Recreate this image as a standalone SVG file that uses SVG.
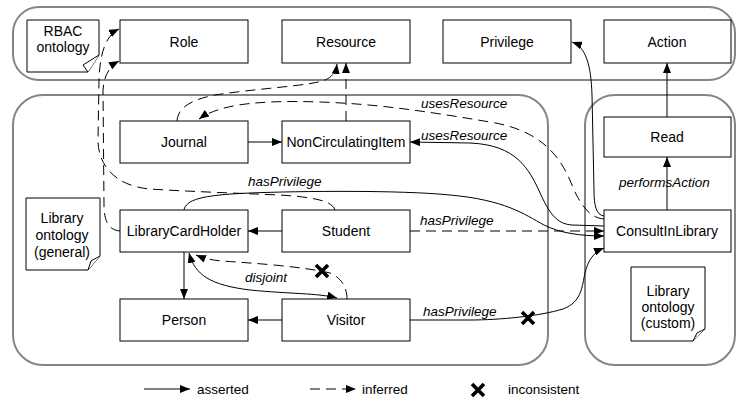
<svg xmlns="http://www.w3.org/2000/svg" width="738" height="398" viewBox="0 0 738 398">
<defs>
<marker id="arr" viewBox="0 0 10 8" refX="10" refY="4" markerWidth="10" markerHeight="8" markerUnits="userSpaceOnUse" orient="auto-start-reverse"><path d="M0,0 L10,4 L0,8 z" fill="#000"/></marker>
<style>
.cont{fill:none;stroke:#858585;stroke-width:2}
.node{fill:#fff;stroke:#000;stroke-width:1}
.nt{font-family:"Liberation Sans",Arial,sans-serif;font-size:14px;text-anchor:middle;fill:#000}
.lbl{font-family:"Liberation Sans",Arial,sans-serif;font-size:13.5px;font-style:italic;fill:#000}
.leg{font-family:"Liberation Sans",Arial,sans-serif;font-size:13.5px;fill:#000}
.a{fill:none;stroke:#000;stroke-width:1;marker-end:url(#arr)}
.i{fill:none;stroke:#000;stroke-width:1;stroke-dasharray:10,6;marker-end:url(#arr)}
.x{stroke:#000;stroke-width:3.6;fill:none}
</style>
</defs>
<rect fill="#fff" x="0" y="0" width="738" height="398"/>
<g id="containers">
<rect class="cont" x="13" y="7" width="722" height="73" rx="26"/>
<rect class="cont" x="13" y="95" width="535" height="270" rx="30"/>
<rect class="cont" x="585" y="95" width="150" height="270" rx="30"/>
</g>
<g id="rbac-note">
<path class="node" d="M27,20 H99 V55 L88,72 H27 Z"/>
<path class="node" d="M99,55 L83,65 L88,72"/>
<text class="nt" x="63" y="36">RBAC</text>
<text class="nt" x="63" y="52">ontology</text>
</g>
<g id="general-note">
<path class="node" d="M26,198 H100 V256 L88,270 H26 Z"/>
<path class="node" d="M100,256 L91,261 L88,270"/>
<text class="nt" x="62" y="223">Library</text>
<text class="nt" x="62" y="240">ontology</text>
<text class="nt" x="62" y="257">(general)</text>
</g>
<g id="custom-note">
<path class="node" d="M631,267 H705 V329 L693,341 H631 Z"/>
<path class="node" d="M705,329 L697,333 L693,341"/>
<text class="nt" x="668" y="296">Library</text>
<text class="nt" x="668" y="312">ontology</text>
<text class="nt" x="668" y="328">(custom)</text>
</g>
<g id="Role"><rect class="node" x="120" y="20" width="128" height="43"/><text class="nt" x="184" y="47">Role</text></g>
<g id="Resource"><rect class="node" x="282" y="20" width="128" height="43"/><text class="nt" x="346" y="47">Resource</text></g>
<g id="Privilege"><rect class="node" x="443" y="20" width="128" height="43"/><text class="nt" x="507" y="47">Privilege</text></g>
<g id="Action"><rect class="node" x="604" y="20" width="127" height="43"/><text class="nt" x="667" y="47">Action</text></g>
<g id="Journal"><rect class="node" x="120" y="121" width="128" height="42"/><text class="nt" x="184" y="147">Journal</text></g>
<g id="NonCirculatingItem"><rect class="node" x="282" y="121" width="128" height="42"/><text class="nt" x="346" y="147">NonCirculatingItem</text></g>
<g id="Read"><rect class="node" x="604" y="117" width="127" height="40"/><text class="nt" x="667" y="142">Read</text></g>
<g id="LibraryCardHolder"><rect class="node" x="120" y="210" width="128" height="42"/><text class="nt" x="184" y="236">LibraryCardHolder</text></g>
<g id="Student"><rect class="node" x="282" y="210" width="128" height="42"/><text class="nt" x="346" y="236">Student</text></g>
<g id="ConsultInLibrary"><rect class="node" x="604" y="210" width="127" height="42"/><text class="nt" x="667" y="236">ConsultInLibrary</text></g>
<g id="Person"><rect class="node" x="120" y="299" width="128" height="42"/><text class="nt" x="184" y="325">Person</text></g>
<g id="Visitor"><rect class="node" x="282" y="299" width="128" height="42"/><text class="nt" x="346" y="325">Visitor</text></g>
<g id="connectors">
<path class="a" d="M248,142 L282,142"/>
<path class="a" d="M282,231 L248,231"/>
<path class="a" d="M184,252 L184,299"/>
<path class="a" d="M282,320 L248,320"/>
<path class="a" d="M667,117 L667,63"/>
<path class="a" d="M667,210 L667,157"/>
<path class="a" d="M604,216 C596,215 594,205 594,190 L592,95 C591,65 586,47 572,42"/>
<path class="a" d="M604,226 L572,225 C556,224 549,212 541,195 C529,168 516,145 470,143 L410,142"/>
<path class="a" d="M184,210 C186,200 200,195 250,193 C300,191 400,190 450,195 C505,200 524,214 544,225 C560,233 580,236 604,236"/>
<path class="a" d="M410,320 L470,320 C500,320 540,316 563,309 C582,302 582,286 585,273 C588,260 594,252 604,248"/>
<path class="a" style="marker-start:url(#arr)" d="M189,253 C195,275 210,285 250,290 C290,294 318,293 337,298"/>
<path class="i" d="M347,299 C347,288 342,278 330,273 C300,266 250,263 222,261 C210,260 203,258 196,255"/>
<path class="i" d="M346,121 L346,63"/>
<path class="i" d="M177,121 C178,108 190,100 215,95 C260,88 310,86 325,80 C332,77 336,72 337,64"/>
<path class="i" d="M604,219 C590,218 580,205 572,185 C560,155 540,130 490,122 C430,112 380,104 320,102 C260,100 220,104 199,119"/>
<path class="i" d="M410,231 L604,231"/>
<path class="i" d="M335,210 C332,200 310,197 280,195 C230,193 180,191 150,189 C115,186 98,165 98,140 L99,80 C100,50 107,35 119,29"/>
<path class="i" d="M120,231 C108,230 104,220 104,205 L103,90 C104,75 110,66 119,61"/>
<path class="x" d="M522,312 L534,324 M534,312 L522,324"/>
<path class="x" d="M316,265 L328,277 M328,265 L316,277"/>
</g>
<g id="labels">
<text class="lbl" x="421" y="108">usesResource</text>
<text class="lbl" x="421" y="140">usesResource</text>
<text class="lbl" x="248" y="186">hasPrivilege</text>
<text class="lbl" x="420" y="225">hasPrivilege</text>
<text class="lbl" x="423" y="316">hasPrivilege</text>
<text class="lbl" x="619" y="187">performsAction</text>
<text class="lbl" x="245" y="282">disjoint</text>
</g>
<g id="legend">
<path class="a" d="M144,389 L190,389"/>
<text class="leg" x="197" y="394">asserted</text>
<path class="i" d="M310,389 L356,389"/>
<text class="leg" x="362" y="394">inferred</text>
<path class="x" d="M472,384 L484,396 M484,384 L472,396"/>
<text class="leg" x="508" y="394">inconsistent</text>
</g>
</svg>
